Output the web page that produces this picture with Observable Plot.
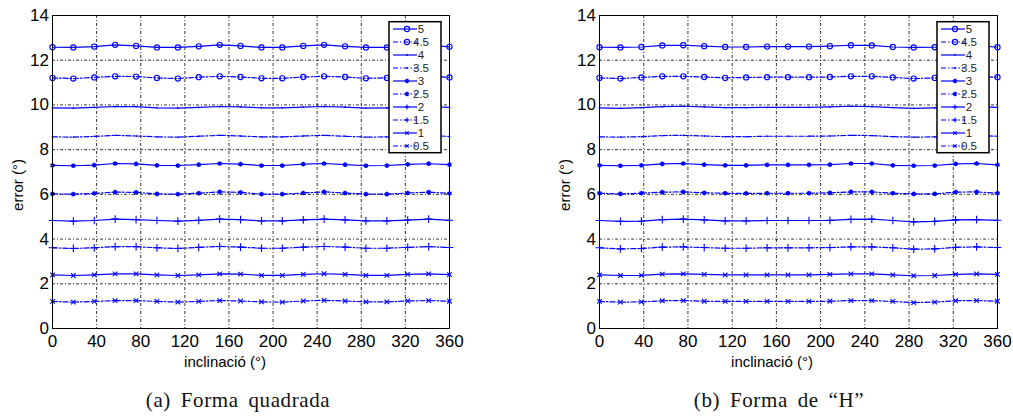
<!DOCTYPE html>
<html>
<head>
<meta charset="utf-8">
<script src="https://cdn.jsdelivr.net/npm/d3@7"></script>
<script src="https://cdn.jsdelivr.net/npm/@observablehq/plot@0.6"></script>
<style>
  html, body { margin: 0; padding: 0; background: #fff; }
  #wrap { position: relative; width: 1013px; height: 416px; background: #fff; font-family: "Liberation Sans", Arial, sans-serif; overflow: hidden; }
  .panel { position: absolute; top: 0; }
  .ylab { position: absolute; font-family: "Liberation Sans", Arial, sans-serif; font-size: 15px; white-space: nowrap; transform: translate(-50%, -50%) rotate(-90deg); color: #000; }
  .xlab { position: absolute; font-family: "Liberation Sans", Arial, sans-serif; font-size: 15px; white-space: nowrap; transform: translate(-50%, -50%); color: #000; }
  .cap { position: absolute; font-family: "Liberation Serif", "DejaVu Serif", serif; font-size: 21px; white-space: nowrap; transform: translate(-50%, -50%); color: #111; letter-spacing: 0.6px; word-spacing: 4px; }
</style>
</head>
<body>
<div id="wrap"></div>
<script>
// ---------- data ----------
const inclinacio = [0, 18.9, 37.9, 56.8, 75.8, 94.7, 113.7, 132.6, 151.6, 170.5, 189.5, 208.4, 227.4, 246.3, 265.3, 284.2, 303.2, 322.1, 341.1, 360];
const seriesNames = ["5", "4.5", "4", "3.5", "3", "2.5", "2", "1.5", "1", "0.5"];
const xTicks = [0, 40, 80, 120, 160, 200, 240, 280, 320, 360];
const yTicks = [0, 2, 4, 6, 8, 10, 12, 14];
const xLabel = "inclinació (°)";
const yLabel = "error (°)";
const captions = ["(a) Forma quadrada", "(b) Forma de “H”"];

// (a) Forma quadrada
const quadrada_5   = [12.58,12.57,12.61,12.69,12.64,12.57,12.57,12.62,12.69,12.64,12.57,12.57,12.64,12.69,12.62,12.57,12.57,12.62,12.68,12.60];
const quadrada_4_5 = [11.21,11.18,11.23,11.28,11.27,11.21,11.18,11.24,11.28,11.25,11.19,11.19,11.25,11.28,11.25,11.19,11.21,11.24,11.28,11.23];
const quadrada_4   = [9.87,9.86,9.89,9.93,9.92,9.87,9.86,9.89,9.93,9.91,9.87,9.87,9.90,9.93,9.90,9.86,9.87,9.89,9.93,9.89];
const quadrada_3_5 = [8.57,8.56,8.59,8.64,8.61,8.57,8.56,8.60,8.64,8.61,8.57,8.57,8.61,8.64,8.60,8.56,8.57,8.60,8.64,8.59];
const quadrada_3   = [7.30,7.28,7.31,7.38,7.36,7.30,7.29,7.33,7.38,7.35,7.29,7.29,7.35,7.38,7.33,7.28,7.29,7.34,7.37,7.33];
const quadrada_2_5 = [6.02,6.01,6.04,6.10,6.09,6.02,6.01,6.05,6.11,6.09,6.01,6.01,6.06,6.11,6.06,6.01,6.01,6.06,6.10,6.04];
const quadrada_2   = [4.83,4.80,4.83,4.89,4.87,4.83,4.80,4.84,4.89,4.87,4.81,4.81,4.86,4.89,4.86,4.81,4.81,4.85,4.89,4.84];
const quadrada_1_5 = [3.61,3.58,3.61,3.66,3.66,3.61,3.58,3.63,3.67,3.64,3.59,3.59,3.64,3.67,3.64,3.59,3.59,3.63,3.66,3.62];
const quadrada_1   = [2.40,2.37,2.40,2.44,2.44,2.40,2.37,2.40,2.44,2.43,2.38,2.38,2.42,2.45,2.42,2.38,2.38,2.42,2.44,2.41];
const quadrada_0_5 = [1.21,1.18,1.21,1.25,1.25,1.21,1.18,1.21,1.25,1.23,1.19,1.18,1.23,1.26,1.23,1.19,1.19,1.23,1.25,1.22];

// (b) Forma de "H"
const formaH_5   = [12.58,12.57,12.59,12.66,12.67,12.63,12.59,12.59,12.61,12.61,12.61,12.63,12.67,12.66,12.59,12.57,12.58,12.63,12.66,12.58];
const formaH_4_5 = [11.21,11.18,11.23,11.28,11.28,11.25,11.21,11.23,11.24,11.24,11.24,11.25,11.28,11.28,11.23,11.18,11.21,11.25,11.27,11.24];
const formaH_4   = [9.87,9.85,9.88,9.92,9.94,9.91,9.88,9.88,9.89,9.89,9.89,9.91,9.94,9.92,9.88,9.85,9.87,9.90,9.92,9.89];
const formaH_3_5 = [8.57,8.56,8.58,8.63,8.64,8.61,8.58,8.58,8.60,8.60,8.60,8.61,8.64,8.63,8.58,8.56,8.57,8.61,8.63,8.60];
const formaH_3   = [7.30,7.28,7.30,7.36,7.38,7.33,7.30,7.30,7.32,7.32,7.32,7.33,7.38,7.38,7.30,7.28,7.29,7.36,7.38,7.32];
const formaH_2_5 = [6.05,6.02,6.05,6.10,6.11,6.07,6.05,6.04,6.05,6.05,6.05,6.07,6.11,6.11,6.05,6.02,6.02,6.10,6.11,6.05];
const formaH_2   = [4.83,4.79,4.80,4.87,4.89,4.86,4.81,4.81,4.83,4.83,4.83,4.84,4.88,4.89,4.83,4.77,4.79,4.86,4.87,4.84];
const formaH_1_5 = [3.61,3.56,3.58,3.64,3.65,3.62,3.59,3.59,3.61,3.61,3.61,3.62,3.65,3.65,3.61,3.55,3.56,3.63,3.65,3.62];
const formaH_1   = [2.40,2.37,2.38,2.43,2.44,2.42,2.40,2.40,2.40,2.40,2.40,2.42,2.44,2.44,2.40,2.36,2.37,2.42,2.44,2.42];
const formaH_0_5 = [1.21,1.18,1.19,1.24,1.25,1.22,1.21,1.21,1.21,1.21,1.21,1.22,1.25,1.25,1.21,1.16,1.18,1.24,1.25,1.22];

const quadrada = [quadrada_5, quadrada_4_5, quadrada_4, quadrada_3_5, quadrada_3, quadrada_2_5, quadrada_2, quadrada_1_5, quadrada_1, quadrada_0_5];
const formaH = [formaH_5, formaH_4_5, formaH_4, formaH_3_5, formaH_3, formaH_2_5, formaH_2, formaH_1_5, formaH_1, formaH_0_5];

// ---------- styles ----------
const BLUE = "#0000ff";
const markerOf = i => ["circle", "circle", "point", "point", "asterisk", "asterisk", "plus", "plus", "times", "times"][i];
const dashOf = i => (i % 2 === 1 ? "5,2,1.5,2" : null);
const GRID_DASH = "3,2,1,2";

function markerMarks(d, i) {
  const m = markerOf(i);
  if (m === "circle") return Plot.dot(d, {x: "x", y: "y", r: 2.6, stroke: BLUE, strokeWidth: 1.1, fill: "none"});
  if (m === "point") return Plot.dot(d, {x: "x", y: "y", r: 0.9, fill: BLUE, stroke: "none"});
  if (m === "asterisk") return Plot.dot(d, {x: "x", y: "y", r: 2.2, symbol: "asterisk", stroke: BLUE, strokeWidth: 1.6});
  if (m === "plus") return Plot.dot(d, {x: "x", y: "y", r: 2.6, symbol: "plus", stroke: BLUE, strokeWidth: 1.1});
  return Plot.dot(d, {x: "x", y: "y", r: 2.2, symbol: "times", stroke: BLUE, strokeWidth: 1.1});
}

function legendGlyph(g, i, cx, cy) {
  const m = markerOf(i);
  if (m === "circle") g.append("circle").attr("cx", cx).attr("cy", cy).attr("r", 2.6).attr("fill", "none").attr("stroke", BLUE).attr("stroke-width", 1.1);
  else if (m === "point") g.append("circle").attr("cx", cx).attr("cy", cy).attr("r", 0.9).attr("fill", BLUE);
  else if (m === "asterisk") g.append("path").attr("d", `M${cx},${cy-2.2}V${cy+2.2}M${cx-1.9},${cy-1.1}L${cx+1.9},${cy+1.1}M${cx-1.9},${cy+1.1}L${cx+1.9},${cy-1.1}`).attr("stroke", BLUE).attr("stroke-width", 1.6);
  else if (m === "plus") g.append("path").attr("d", `M${cx-2.4},${cy}H${cx+2.4}M${cx},${cy-2.4}V${cy+2.4}`).attr("stroke", BLUE).attr("stroke-width", 1.1);
  else g.append("path").attr("d", `M${cx-1.7},${cy-1.7}L${cx+1.7},${cy+1.7}M${cx-1.7},${cy+1.7}L${cx+1.7},${cy-1.7}`).attr("stroke", BLUE).attr("stroke-width", 1.1);
}

function panel(values, width, marginLeft, marginRight) {
  const marks = [
    Plot.ruleX(xTicks.slice(1, -1), {stroke: "#000", strokeWidth: 0.8, strokeDasharray: GRID_DASH}),
    Plot.ruleY(yTicks.slice(1, -1), {stroke: "#000", strokeWidth: 0.8, strokeDasharray: GRID_DASH})
  ];
  seriesNames.forEach((s, i) => {
    const d = values[i].map((v, j) => ({x: inclinacio[j], y: v, s}));
    marks.push(Plot.line(d, {x: "x", y: "y", stroke: BLUE, strokeWidth: 1.2, strokeDasharray: dashOf(i)}));
    marks.push(markerMarks(d, i));
  });
  marks.push(Plot.frame({stroke: "#000", strokeWidth: 1}));
  const svg = Plot.plot({
    width, height: 370,
    marginLeft, marginRight, marginTop: 15, marginBottom: 42,
    style: {fontSize: "17px", fontFamily: "'Liberation Sans', Arial, sans-serif", color: "#000", background: "#fff", overflow: "visible"},
    x: {domain: [0, 360], ticks: xTicks, tickSize: 0, tickPadding: 6, label: null},
    y: {domain: [0, 14], ticks: yTicks, tickSize: 0, tickPadding: 3.5, label: null},
    marks
  });
  // legend (inside the axes, top right)
  const plotRight = width - marginRight;
  const bx = plotRight - 60, by = 21.7, bw = 52, bh = 131;
  const g = d3.select(svg).append("g").attr("font-family", "'Liberation Sans', Arial, sans-serif");
  g.append("rect").attr("x", bx).attr("y", by).attr("width", bw).attr("height", bh).attr("fill", "#fff").attr("stroke", "#000").attr("stroke-width", 1.5);
  seriesNames.forEach((s, i) => {
    const cy = 29 + i * 13;
    const line = g.append("line").attr("x1", bx + 4).attr("x2", bx + 28).attr("y1", cy).attr("y2", cy).attr("stroke", BLUE).attr("stroke-width", 1.2);
    if (dashOf(i)) line.attr("stroke-dasharray", dashOf(i));
    legendGlyph(g, i, bx + 18, cy);
    g.append("text").attr("x", bx + 32).attr("y", cy).attr("dy", "0.35em").attr("font-size", 11.5).attr("fill", "#222").text(s);
  });
  return svg;
}

const wrap = document.getElementById("wrap");
const specs = [
  {values: quadrada, left: 0, width: 506, ml: 52, mr: 57, ylabX: 17, xlabX: 225, capX: 238},
  {values: formaH, left: 506, width: 507, ml: 93, mr: 16, ylabX: 564, xlabX: 772, capX: 779}
];
specs.forEach((p, k) => {
  const div = document.createElement("div");
  div.className = "panel";
  div.style.left = p.left + "px";
  div.appendChild(panel(p.values, p.width, p.ml, p.mr));
  wrap.appendChild(div);
  const yl = document.createElement("div");
  yl.className = "ylab"; yl.textContent = yLabel;
  yl.style.left = p.ylabX + "px"; yl.style.top = "185px";
  wrap.appendChild(yl);
  const xl = document.createElement("div");
  xl.className = "xlab"; xl.textContent = xLabel;
  xl.style.left = p.xlabX + "px"; xl.style.top = "361px";
  wrap.appendChild(xl);
  const cap = document.createElement("div");
  cap.className = "cap"; cap.textContent = captions[k];
  cap.style.left = p.capX + "px"; cap.style.top = "400px";
  wrap.appendChild(cap);
});
</script>
</body>
</html>
